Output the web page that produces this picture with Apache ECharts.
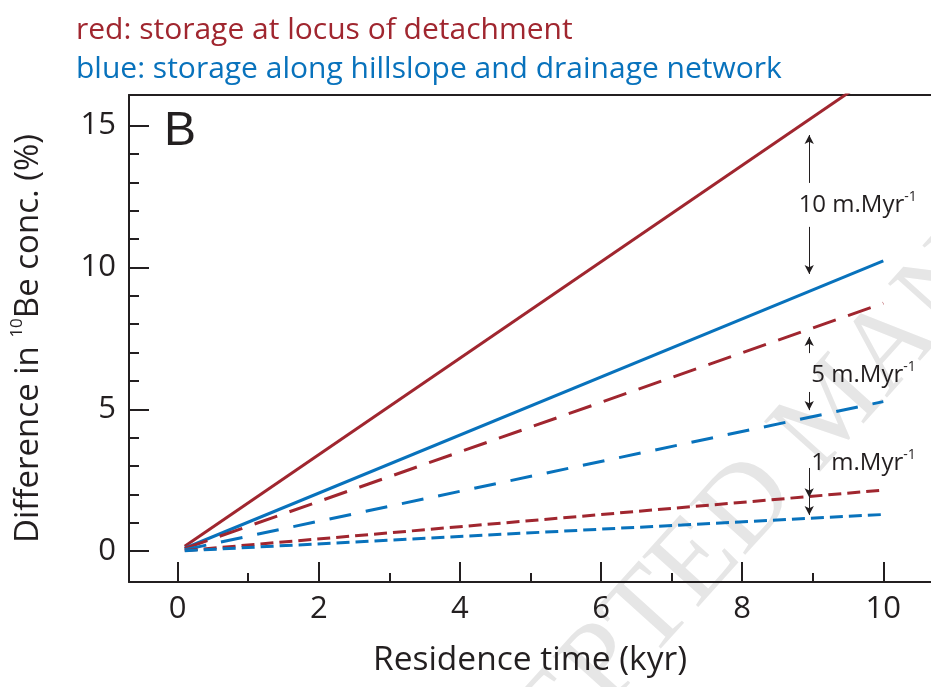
<!DOCTYPE html>
<html>
<head>
<meta charset="utf-8">
<script src="https://cdn.jsdelivr.net/npm/echarts@6/dist/echarts.min.js"></script>
<style>
  html, body { margin: 0; padding: 0; background: #ffffff; }
  #chart { width: 931px; height: 687px; }
</style>
</head>
<body>
<div id="chart"></div>
<script>
// ---- data ----
const residenceTime = [0.1, 10];                 // kyr, start and end of each line
const redSolid      = [0.17, 17.0];              // 10 m/Myr, locus of detachment
const blueSolid     = [0.10, 10.23];             // 10 m/Myr, hillslope & drainage
const redLongDash   = [0.09, 8.74];              // 5 m/Myr
const blueLongDash  = [0.05, 5.27];              // 5 m/Myr
const redShortDash  = [0.02, 2.15];              // 1 m/Myr
const blueShortDash = [0.01, 1.29];              // 1 m/Myr

const xMajorTicks = [0, 2, 4, 6, 8, 10];
const xMinorTicks = [1, 3, 5, 7, 9];
const yMajorTicks = [0, 5, 10, 15];
const yMinorTicks = [1, 2, 3, 4, 6, 7, 8, 9, 11, 12, 13, 14];

// annotation arrows: [x, yFrom, yTo] (arrow head at yTo)
const arrowX = 8.95;
const arrows = [
  [arrowX, 12.98, 14.67],
  [arrowX, 11.43, 9.77],
  [arrowX, 6.98, 7.55],
  [arrowX, 5.61, 4.97],
  [arrowX, 2.93, 1.90],
  [arrowX, 1.90, 1.27]
];
// annotation labels: [x, y, rate]
const rateLabels = [
  [8.80, 12.2, '10'],
  [8.98, 6.21, '5'],
  [8.98, 3.10, '1']
];

const RED = '#A0262F';
const BLUE = '#0872BC';
const INK = '#231F20';
const FONT = '"Open Sans", "Noto Sans", sans-serif';

function pairs(ys) { return residenceTime.map((x, i) => [x, ys[i]]); }

const chart = echarts.init(document.getElementById('chart'), null, { renderer: 'canvas' });

const xMin = -0.69, xMax = 10.676, yMin = -1.09, yMax = 16.08;

function lineSeries(name, ys, color, dash) {
  return {
    name: name, type: 'line', data: pairs(ys), xAxisIndex: 0, yAxisIndex: 0,
    showSymbol: false, symbol: 'none', silent: true, clip: true, z: 3,
    lineStyle: { color: color, width: 3, type: dash || 'solid', cap: 'butt' }
  };
}

const option = {
  backgroundColor: '#ffffff',
  animation: false,
  title: [
    { text: 'red: storage at locus of detachment', left: 71, top: 10,
      textStyle: { color: RED, fontFamily: FONT, fontSize: 30, fontWeight: 'normal' } },
    { text: 'blue: storage along hillslope and drainage network', left: 71, top: 49,
      textStyle: { color: BLUE, fontFamily: FONT, fontSize: 30, fontWeight: 'normal' } }
  ],
  graphic: [
    { type: 'text', left: 164, top: 108, z: 10,
      style: { text: 'B', fill: INK, font: '48px "Liberation Sans", Arial, sans-serif' } },
    { type: 'text', x: 835, y: 410, rotation: 48 * Math.PI / 180, z: -10, silent: true,
      style: { text: 'ACCEPTED MANUSCRIPT', fill: '#e6e6e6', align: 'center', verticalAlign: 'middle',
               font: '115px "Liberation Serif", "DejaVu Serif", serif' } }
  ],
  grid: { left: 129, right: 0, top: 95, bottom: 105, containLabel: false },
  xAxis: [
    { type: 'value', position: 'bottom', min: xMin, max: xMax, gridIndex: 0,
      name: 'Residence time (kyr)', nameLocation: 'middle', nameGap: 61,
      nameTextStyle: { fontFamily: FONT, fontSize: 33.5, color: INK },
      axisLine: { show: true, onZero: false, lineStyle: { color: INK, width: 2 } },
      axisTick: { show: true, inside: true, length: 20, customValues: xMajorTicks, lineStyle: { color: INK, width: 2 } },
      axisLabel: { show: true, customValues: xMajorTicks, margin: 12, fontFamily: FONT, fontSize: 31, color: INK },
      splitLine: { show: false } },
    { type: 'value', position: 'bottom', min: xMin, max: xMax, gridIndex: 0,
      axisLine: { show: false, onZero: false },
      axisTick: { show: true, inside: true, length: 9, customValues: xMinorTicks, lineStyle: { color: INK, width: 2 } },
      axisLabel: { show: false }, splitLine: { show: false } },
    { type: 'value', position: 'top', min: xMin, max: xMax, gridIndex: 0,
      axisLine: { show: true, onZero: false, lineStyle: { color: INK, width: 2 } },
      axisTick: { show: false }, axisLabel: { show: false }, splitLine: { show: false } }
  ],
  yAxis: [
    { type: 'value', position: 'left', min: yMin, max: yMax, gridIndex: 0,
      name: 'Difference in {s|10}Be conc. (%)', nameLocation: 'middle', nameGap: 80, nameRotate: 90,
      nameTextStyle: { fontFamily: FONT, fontSize: 33, color: INK,
        rich: { s: { fontFamily: FONT, fontSize: 17, color: INK, verticalAlign: 'top', lineHeight: 40 } } },
      axisLine: { show: true, onZero: false, lineStyle: { color: INK, width: 2 } },
      axisTick: { show: true, inside: true, length: 20, customValues: yMajorTicks, lineStyle: { color: INK, width: 2 } },
      axisLabel: { show: true, customValues: yMajorTicks, margin: 13, fontFamily: FONT, fontSize: 31, color: INK },
      splitLine: { show: false } },
    { type: 'value', position: 'left', min: yMin, max: yMax, gridIndex: 0,
      axisLine: { show: false, onZero: false },
      axisTick: { show: true, inside: true, length: 10, customValues: yMinorTicks, lineStyle: { color: INK, width: 2 } },
      axisLabel: { show: false }, splitLine: { show: false } }
  ],
  series: [
    lineSeries('red 10', redSolid, RED, 'solid'),
    lineSeries('blue 10', blueSolid, BLUE, 'solid'),
    lineSeries('red 5', redLongDash, RED, [24, 13]),
    lineSeries('blue 5', blueLongDash, BLUE, [22, 15]),
    lineSeries('red 1', redShortDash, RED, [13, 6]),
    lineSeries('blue 1', blueShortDash, BLUE, [13, 6]),
    {
      name: 'arrows', type: 'line', data: [], xAxisIndex: 0, yAxisIndex: 0, silent: true,
      markLine: {
        silent: true, animation: false,
        symbol: ['none', 'arrow'], symbolSize: [7, 9],
        label: { show: false },
        lineStyle: { color: INK, width: 1, type: 'solid', opacity: 1 },
        data: arrows.map(a => [{ coord: [a[0], a[1]] }, { coord: [a[0], a[2]] }])
      }
    },
    {
      name: 'rates', type: 'scatter', xAxisIndex: 0, yAxisIndex: 0, silent: true,
      symbolSize: 0, z: 5,
      itemStyle: { color: INK, opacity: 1 },
      data: rateLabels.map(r => ({ value: [r[0], r[1]], rate: r[2] })),
      label: {
        show: true, position: 'right', distance: 0, color: INK, opacity: 1,
        textBorderWidth: 0,
        formatter: p => '{a|' + p.data.rate + ' m.Myr}{s|-1}',
        rich: {
          a: { fontFamily: FONT, fontSize: 24, color: INK, lineHeight: 30 },
          s: { fontFamily: FONT, fontSize: 14, color: INK, verticalAlign: 'top', lineHeight: 30 }
        }
      }
    }
  ]
};

chart.setOption(option);
</script>
</body>
</html>
